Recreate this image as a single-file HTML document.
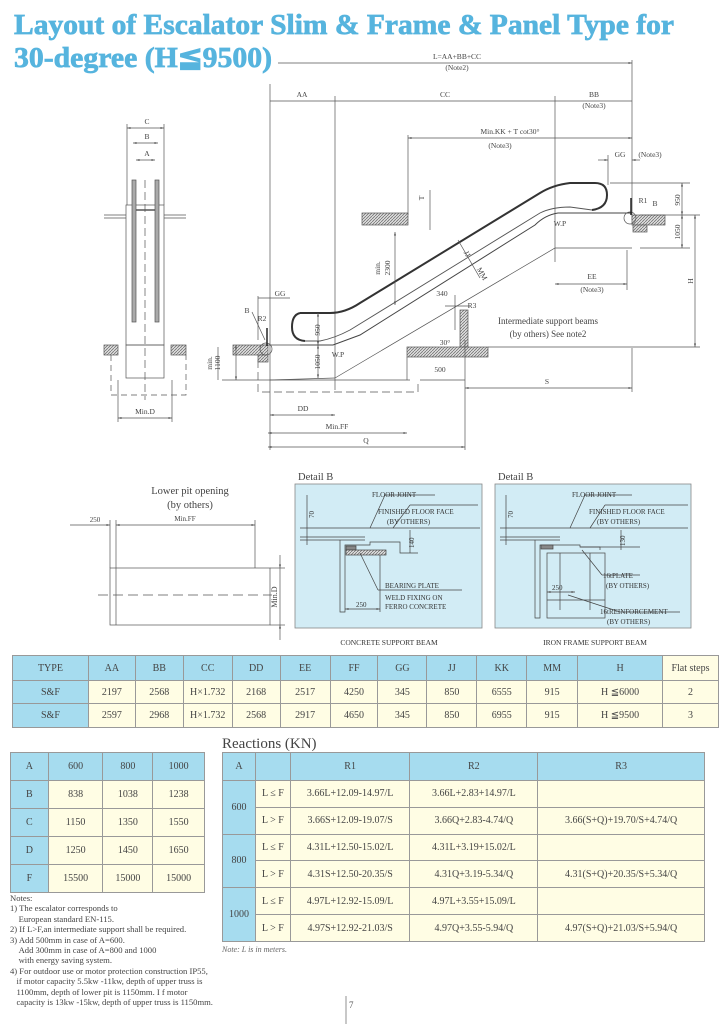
<!DOCTYPE html>
<html><head><meta charset="utf-8">
<style>
html,body{margin:0;padding:0;background:#fff;}
body{width:720px;height:1024px;position:relative;overflow:hidden;font-family:"Liberation Serif",serif;color:#333;}
svg{position:absolute;left:0;top:0;}
table{position:absolute;border-collapse:collapse;font-family:"Liberation Serif",serif;color:#444;}
td{border:1px solid #999;text-align:center;padding:0;background:#fffde4;font-size:10px;}
td.h{background:#a6dcef;}
.notes{position:absolute;left:10px;top:893px;font-size:8.6px;line-height:10.4px;color:#444;}
.notes div{white-space:nowrap;}
</style></head><body>
<svg width="720" height="1024" viewBox="0 0 720 1024" font-family="Liberation Serif, serif">
<defs>
<pattern id="ht" width="3" height="3" patternUnits="userSpaceOnUse"><rect width="3" height="3" fill="#ddd"/><path d="M0 3L3 0" stroke="#666" stroke-width="0.7"/></pattern>
<marker id="ar" markerWidth="6" markerHeight="6" refX="5" refY="3" orient="auto-start-reverse"><path d="M0 1.5L5 3L0 4.5z" fill="#555"/></marker>
</defs>
<text x="14" y="34" font-size="28" font-weight="bold" fill="#56b4de" stroke="#56b4de" stroke-width="0.7" textLength="660" lengthAdjust="spacingAndGlyphs">Layout of Escalator Slim &amp; Frame &amp; Panel Type for</text>
<text x="14" y="67" font-size="28" font-weight="bold" fill="#56b4de" stroke="#56b4de" stroke-width="0.7" textLength="258" lengthAdjust="spacingAndGlyphs">30-degree (H≦9500)</text>

<g stroke="#555" stroke-width="0.7" fill="none">
<line x1="278" y1="63" x2="632" y2="63" marker-end="url(#ar)"/>
<line x1="270" y1="84" x2="270" y2="450"/>
<line x1="632" y1="60" x2="632" y2="220"/>
<line x1="270" y1="101" x2="632" y2="101"/>
<line x1="335" y1="96" x2="335" y2="390"/>
<line x1="555" y1="96" x2="555" y2="262"/>
<line x1="408" y1="138" x2="632" y2="138" marker-start="url(#ar)" marker-end="url(#ar)"/>
<line x1="408" y1="135" x2="408" y2="215"/>
<line x1="598" y1="160" x2="608" y2="160" marker-end="url(#ar)"/>
<line x1="640" y1="160" x2="632" y2="160" marker-end="url(#ar)"/>
<line x1="608" y1="155" x2="608" y2="185"/>
<!-- handrail -->
<path d="M300 313 L330 313 Q345 313 360 303 L540 193 Q553 185 570 183 L595 183 Q607 183 607 195 Q607 208 592 210" stroke="#333" stroke-width="2"/>
<path d="M300 313 Q292 315 292 327 Q292 340 305 341" stroke="#333" stroke-width="2"/>
<path d="M305 341 L320 341 Q335 338 350 330 L540 213 Q552 207 570 207 L592 210" stroke="#555" stroke-width="0.9"/>
<path d="M300 345 L333 345 L360 335 L535 225 Q545 215 558 213 L632 213" stroke="#444" stroke-width="1"/>
<path d="M262 345 L300 345" stroke="#444"/>
<path d="M335 378 L555 248 L632 248"/>
<path d="M270 380 L335 378"/>
<rect x="362" y="213" width="46" height="12" fill="url(#ht)"/>
<rect x="632" y="215" width="33" height="10" fill="url(#ht)"/>
<rect x="633" y="225" width="14" height="7" fill="url(#ht)"/>
<rect x="233" y="345" width="35" height="10" fill="url(#ht)"/>
<rect x="258" y="355" width="10" height="7" fill="url(#ht)"/>
<rect x="407" y="347" width="81" height="10" fill="url(#ht)"/>
<rect x="460" y="310" width="8" height="37" fill="url(#ht)"/>
<circle cx="266" cy="349" r="6"/>
<circle cx="630" cy="218" r="6"/>
<line x1="267" y1="328" x2="267" y2="346" stroke="#222" stroke-width="1.5"/>
<line x1="631" y1="198" x2="631" y2="215" stroke="#222" stroke-width="1.5"/>
<line x1="407" y1="357" x2="407" y2="380"/>
<line x1="222" y1="380" x2="410" y2="380"/>
<path d="M258 360 L258 392 L418 392 L418 380" stroke-dasharray="8 4"/>
<line x1="318" y1="313" x2="318" y2="345" marker-start="url(#ar)" marker-end="url(#ar)"/>
<line x1="318" y1="345" x2="318" y2="378" marker-start="url(#ar)" marker-end="url(#ar)"/>
<line x1="395" y1="232" x2="395" y2="305" marker-start="url(#ar)" marker-end="url(#ar)"/>
<line x1="430" y1="190" x2="430" y2="230"/>
<line x1="682" y1="183" x2="682" y2="215" marker-start="url(#ar)" marker-end="url(#ar)"/>
<line x1="682" y1="215" x2="682" y2="248" marker-start="url(#ar)" marker-end="url(#ar)"/>
<line x1="695" y1="215" x2="695" y2="347" marker-start="url(#ar)" marker-end="url(#ar)"/>
<line x1="610" y1="183" x2="690" y2="183"/>
<line x1="640" y1="215" x2="700" y2="215"/>
<line x1="488" y1="347" x2="700" y2="347"/>
<line x1="640" y1="248" x2="690" y2="248"/>
<line x1="236" y1="380" x2="236" y2="345" marker-start="url(#ar)" marker-end="url(#ar)"/>
<line x1="455" y1="295" x2="455" y2="330"/>
<line x1="445" y1="306" x2="470" y2="306"/>
<line x1="458" y1="240" x2="480" y2="278"/>
<line x1="555" y1="284" x2="627" y2="284" marker-start="url(#ar)" marker-end="url(#ar)"/>
<line x1="627" y1="250" x2="627" y2="290"/>
<line x1="420" y1="380" x2="465" y2="380"/>
<line x1="465" y1="388" x2="632" y2="388" marker-start="url(#ar)" marker-end="url(#ar)"/>
<line x1="270" y1="415" x2="335" y2="415" marker-start="url(#ar)" marker-end="url(#ar)"/>
<line x1="268" y1="433" x2="407" y2="433" marker-start="url(#ar)" marker-end="url(#ar)"/>
<line x1="268" y1="447" x2="465" y2="447" marker-start="url(#ar)" marker-end="url(#ar)"/>
<line x1="465" y1="340" x2="465" y2="450"/>
<line x1="632" y1="348" x2="632" y2="392"/>
<line x1="258" y1="298" x2="290" y2="298"/>
<line x1="258" y1="296" x2="258" y2="340"/>
<line x1="252" y1="312" x2="265" y2="340"/>
<!-- left view -->
<line x1="127" y1="128" x2="164" y2="128" marker-start="url(#ar)" marker-end="url(#ar)"/>
<line x1="133" y1="143" x2="158" y2="143" marker-start="url(#ar)" marker-end="url(#ar)"/>
<line x1="136" y1="160" x2="155" y2="160" marker-start="url(#ar)" marker-end="url(#ar)"/>
<line x1="127" y1="124" x2="127" y2="205"/><line x1="164" y1="124" x2="164" y2="205"/>
<rect x="126" y="205" width="38" height="140"/>
<rect x="126" y="345" width="38" height="33"/>
<rect x="132" y="180" width="4" height="142" fill="#aaa"/>
<rect x="155" y="180" width="4" height="142" fill="#aaa"/>
<line x1="136" y1="210" x2="155" y2="210" stroke-width="1.5"/>
<line x1="145" y1="180" x2="145" y2="400" stroke-dasharray="8 4"/>
<line x1="104" y1="215" x2="126" y2="215"/><line x1="164" y1="215" x2="186" y2="215"/>
<line x1="104" y1="218" x2="126" y2="218"/><line x1="164" y1="218" x2="186" y2="218"/>
<rect x="104" y="345" width="14" height="10" fill="url(#ht)"/>
<rect x="171" y="345" width="15" height="10" fill="url(#ht)"/>
<path d="M111 355 L111 395 L186 395 L186 355" stroke-dasharray="6 4"/>
<line x1="118" y1="418" x2="172" y2="418" marker-start="url(#ar)" marker-end="url(#ar)"/>
<line x1="118" y1="380" x2="118" y2="422"/><line x1="172" y1="380" x2="172" y2="422"/>
<line x1="218" y1="347" x2="218" y2="380"/>
<!-- lower pit -->
<rect x="110" y="568" width="160" height="57"/>
<line x1="116" y1="568" x2="116" y2="625"/>
<line x1="98" y1="595" x2="272" y2="595" stroke-dasharray="10 5"/>
<line x1="70" y1="525" x2="110" y2="525" marker-end="url(#ar)"/>
<line x1="116" y1="525" x2="255" y2="525" marker-start="url(#ar)" marker-end="url(#ar)"/>
<line x1="110" y1="520" x2="110" y2="568"/><line x1="116" y1="520" x2="116" y2="568"/><line x1="255" y1="520" x2="255" y2="568"/>
<line x1="280" y1="568" x2="280" y2="625"/>
<line x1="280" y1="555" x2="280" y2="568" marker-end="url(#ar)"/>
<line x1="280" y1="640" x2="280" y2="625" marker-end="url(#ar)"/>
<line x1="270" y1="568" x2="285" y2="568"/><line x1="270" y1="625" x2="285" y2="625"/>
</g>
<g font-size="7.5" fill="#444" text-anchor="middle">
<text x="457" y="59">L=AA+BB+CC</text><text x="457" y="70">(Note2)</text>
<text x="302" y="97">AA</text><text x="445" y="97">CC</text>
<text x="594" y="97">BB</text><text x="594" y="108">(Note3)</text>
<text x="510" y="134">Min.KK + T cot30°</text><text x="500" y="148">(Note3)</text>
<text x="620" y="157">GG</text><text x="650" y="157">(Note3)</text>
<text x="560" y="226">W.P</text><text x="338" y="357">W.P</text>
<text x="643" y="203">R1</text><text x="655" y="206">B</text>
<text x="262" y="321">R2</text><text x="247" y="313">B</text>
<text x="280" y="296">GG</text>
<text x="445" y="345">30°</text>
<text x="442" y="296">340</text><text x="472" y="308">R3</text>
<text x="592" y="279">EE</text><text x="592" y="292">(Note3)</text>
<text x="548" y="324" font-size="9">Intermediate  support  beams</text>
<text x="548" y="337" font-size="9">(by  others) See  note2</text>
<text x="440" y="372">500</text><text x="547" y="384">S</text>
<text x="303" y="411">DD</text><text x="337" y="429">Min.FF</text><text x="366" y="443">Q</text>
<text x="147" y="124">C</text><text x="147" y="139">B</text><text x="147" y="156">A</text>
<text x="145" y="414">Min.D</text>
<text x="95" y="522" font-size="7">250</text>
<text x="185" y="521" font-size="7">Min.FF</text>
<text x="190" y="494" font-size="10.5">Lower pit opening</text>
<text x="190" y="508" font-size="10.5">(by others)</text>
</g>
<g font-size="7.5" fill="#444" text-anchor="middle">
<text transform="translate(320,330) rotate(-90)">950</text>
<text transform="translate(320,362) rotate(-90)">1050</text>
<text transform="translate(380,268) rotate(-90)">min.</text>
<text transform="translate(390,268) rotate(-90)">2300</text>
<text transform="translate(424,198) rotate(-90)">T</text>
<text transform="translate(680,200) rotate(-90)">950</text>
<text transform="translate(680,232) rotate(-90)">1050</text>
<text transform="translate(693,281) rotate(-90)">H</text>
<text transform="translate(212,363) rotate(-90)">min.</text>
<text transform="translate(220,363) rotate(-90)">1100</text>
<text transform="translate(465,255) rotate(60)">JJ</text>
<text transform="translate(480,275) rotate(60)">MM</text>
<text transform="translate(277,597) rotate(-90)" font-size="8">Min.D</text>
</g>
<g font-size="10.5" fill="#444"><text x="298" y="480">Detail B</text><text x="498" y="480">Detail B</text></g>
<rect x="295" y="484" width="187" height="144" fill="#d2ecf5" stroke="#888" stroke-width="0.8"/>
<rect x="495" y="484" width="196" height="144" fill="#d2ecf5" stroke="#888" stroke-width="0.8"/>
<g stroke="#444" stroke-width="0.7" fill="none">
<line x1="300" y1="528" x2="480" y2="528"/><line x1="300" y1="537" x2="365" y2="537"/><line x1="300" y1="540" x2="365" y2="540"/>
<path d="M340 540 L340 612 L345 612 L345 545 L370 545 L370 542 L400 542 L400 553 L418 553"/>
<rect x="346" y="546" width="10" height="4" fill="#888"/>
<rect x="346" y="550" width="40" height="5" fill="url(#ht)"/>
<line x1="370" y1="528" x2="385" y2="495"/><line x1="385" y1="495" x2="435" y2="495"/>
<line x1="393" y1="528" x2="410" y2="505"/><line x1="410" y1="505" x2="478" y2="505"/>
<line x1="360" y1="553" x2="378" y2="590"/><line x1="378" y1="590" x2="462" y2="590"/>
<line x1="345" y1="609" x2="380" y2="609" marker-start="url(#ar)" marker-end="url(#ar)"/>
<line x1="380" y1="555" x2="380" y2="612"/>
<line x1="307" y1="495" x2="307" y2="545"/>
<line x1="410" y1="530" x2="410" y2="553"/>
<line x1="500" y1="528" x2="688" y2="528"/><line x1="500" y1="537" x2="560" y2="537"/><line x1="500" y1="540" x2="560" y2="540"/>
<path d="M535 540 L535 618 L540 618 L540 545 L580 545 L580 547 L600 547 L600 550"/>
<rect x="541" y="545" width="12" height="4" fill="#888"/>
<rect x="547" y="553" width="58" height="65"/>
<line x1="560" y1="553" x2="560" y2="610"/><line x1="590" y1="553" x2="590" y2="610"/>
<line x1="547" y1="600" x2="605" y2="600"/>
<line x1="580" y1="547" x2="640" y2="547"/>
<line x1="570" y1="528" x2="585" y2="495"/><line x1="585" y1="495" x2="632" y2="495"/>
<line x1="590" y1="528" x2="605" y2="505"/><line x1="605" y1="505" x2="688" y2="505"/>
<line x1="582" y1="550" x2="602" y2="575"/><line x1="602" y1="575" x2="640" y2="575"/>
<line x1="568" y1="595" x2="620" y2="612"/><line x1="620" y1="612" x2="680" y2="612"/>
<line x1="547" y1="592" x2="575" y2="592" marker-start="url(#ar)" marker-end="url(#ar)"/>
<line x1="506" y1="495" x2="506" y2="545"/>
<line x1="621" y1="530" x2="621" y2="550"/>
</g>
<g font-size="7" fill="#333">
<text x="372" y="497">FLOOR JOINT</text>
<text x="378" y="514">FINISHED FLOOR FACE</text><text x="387" y="524">(BY OTHERS)</text>
<text x="385" y="588">BEARING PLATE</text><text x="385" y="600">WELD FIXING ON</text><text x="385" y="609">FERRO CONCRETE</text>
<text x="356" y="607">250</text>
<text x="572" y="497">FLOOR JOINT</text>
<text x="589" y="514">FINISHED FLOOR FACE</text><text x="597" y="524">(BY OTHERS)</text>
<text x="603" y="578">16tPLATE</text><text x="606" y="588">(BY OTHERS)</text>
<text x="600" y="614">16tREINFORCEMENT</text><text x="607" y="624">(BY OTHERS)</text>
<text x="552" y="590">250</text>
<text transform="translate(314,518) rotate(-90)">70</text>
<text transform="translate(414,548) rotate(-90)">140</text>
<text transform="translate(513,518) rotate(-90)">70</text>
<text transform="translate(625,546) rotate(-90)">130</text>
<text x="389" y="645" text-anchor="middle" font-size="7.5">CONCRETE SUPPORT BEAM</text>
<text x="595" y="645" text-anchor="middle" font-size="7.5">IRON FRAME SUPPORT BEAM</text>
</g>
<text x="222" y="748" font-size="15" fill="#444">Reactions (KN)</text>
<text x="222" y="952" font-size="8" font-style="italic" fill="#666">Note: L is in meters.</text>
<line x1="346" y1="996" x2="346" y2="1024" stroke="#777" stroke-width="0.8"/>
<text x="349" y="1008" font-size="9" fill="#555">7</text>
</svg>

<table style="left:12px;top:655px;width:707px;height:72px;">
<colgroup><col style="width:76px"><col style="width:47px"><col style="width:48px"><col style="width:49px"><col style="width:48px"><col style="width:50px"><col style="width:48px"><col style="width:49px"><col style="width:50px"><col style="width:50px"><col style="width:51px"><col style="width:85px"><col style="width:56px"></colgroup>
<tr style="height:25px"><td class="h">TYPE</td><td class="h">AA</td><td class="h">BB</td><td class="h">CC</td><td class="h">DD</td><td class="h">EE</td><td class="h">FF</td><td class="h">GG</td><td class="h">JJ</td><td class="h">KK</td><td class="h">MM</td><td class="h">H</td><td>Flat steps</td></tr>
<tr style="height:23px"><td class="h">S&amp;F</td><td>2197</td><td>2568</td><td>H×1.732</td><td>2168</td><td>2517</td><td>4250</td><td>345</td><td>850</td><td>6555</td><td>915</td><td>H ≦6000</td><td>2</td></tr>
<tr style="height:24px"><td class="h">S&amp;F</td><td>2597</td><td>2968</td><td>H×1.732</td><td>2568</td><td>2917</td><td>4650</td><td>345</td><td>850</td><td>6955</td><td>915</td><td>H ≦9500</td><td>3</td></tr>
</table>

<table style="left:10px;top:752px;width:195px;height:141px;">
<colgroup><col style="width:38px"><col style="width:55px"><col style="width:50px"><col style="width:52px"></colgroup>
<tr><td class="h">A</td><td class="h">600</td><td class="h">800</td><td class="h">1000</td></tr>
<tr><td class="h">B</td><td>838</td><td>1038</td><td>1238</td></tr>
<tr><td class="h">C</td><td>1150</td><td>1350</td><td>1550</td></tr>
<tr><td class="h">D</td><td>1250</td><td>1450</td><td>1650</td></tr>
<tr><td class="h">F</td><td>15500</td><td>15000</td><td>15000</td></tr>
</table>

<table style="left:222px;top:752px;width:483px;height:190px;">
<colgroup><col style="width:33px"><col style="width:35px"><col style="width:120px"><col style="width:128px"><col style="width:167px"></colgroup>
<tr style="height:28px"><td class="h">A</td><td class="h"></td><td class="h">R1</td><td class="h">R2</td><td class="h">R3</td></tr>
<tr><td class="h" rowspan="2">600</td><td>L ≤ F</td><td>3.66L+12.09-14.97/L</td><td>3.66L+2.83+14.97/L</td><td></td></tr>
<tr><td>L &gt; F</td><td>3.66S+12.09-19.07/S</td><td>3.66Q+2.83-4.74/Q</td><td>3.66(S+Q)+19.70/S+4.74/Q</td></tr>
<tr><td class="h" rowspan="2">800</td><td>L ≤ F</td><td>4.31L+12.50-15.02/L</td><td>4.31L+3.19+15.02/L</td><td></td></tr>
<tr><td>L &gt; F</td><td>4.31S+12.50-20.35/S</td><td>4.31Q+3.19-5.34/Q</td><td>4.31(S+Q)+20.35/S+5.34/Q</td></tr>
<tr><td class="h" rowspan="2">1000</td><td>L ≤ F</td><td>4.97L+12.92-15.09/L</td><td>4.97L+3.55+15.09/L</td><td></td></tr>
<tr><td>L &gt; F</td><td>4.97S+12.92-21.03/S</td><td>4.97Q+3.55-5.94/Q</td><td>4.97(S+Q)+21.03/S+5.94/Q</td></tr>
</table>

<div class="notes">
<div>Notes:</div>
<div>1) The escalator corresponds to</div>
<div>&nbsp;&nbsp;&nbsp;&nbsp;European standard EN-115.</div>
<div>2) If L&gt;F,an intermediate support shall be required.</div>
<div>3) Add 500mm in case of A=600.</div>
<div>&nbsp;&nbsp;&nbsp;&nbsp;Add 300mm in case of A=800 and 1000</div>
<div>&nbsp;&nbsp;&nbsp;&nbsp;with energy saving system.</div>
<div>4) For outdoor use or motor protection construction  IP55,</div>
<div>&nbsp;&nbsp;&nbsp;if motor capacity 5.5kw -11kw, depth of upper truss is</div>
<div>&nbsp;&nbsp;&nbsp;1100mm, depth of lower pit is 1150mm. I f motor</div>
<div>&nbsp;&nbsp;&nbsp;capacity is 13kw -15kw, depth of upper truss  is 1150mm.</div>
</div>
</body></html>
